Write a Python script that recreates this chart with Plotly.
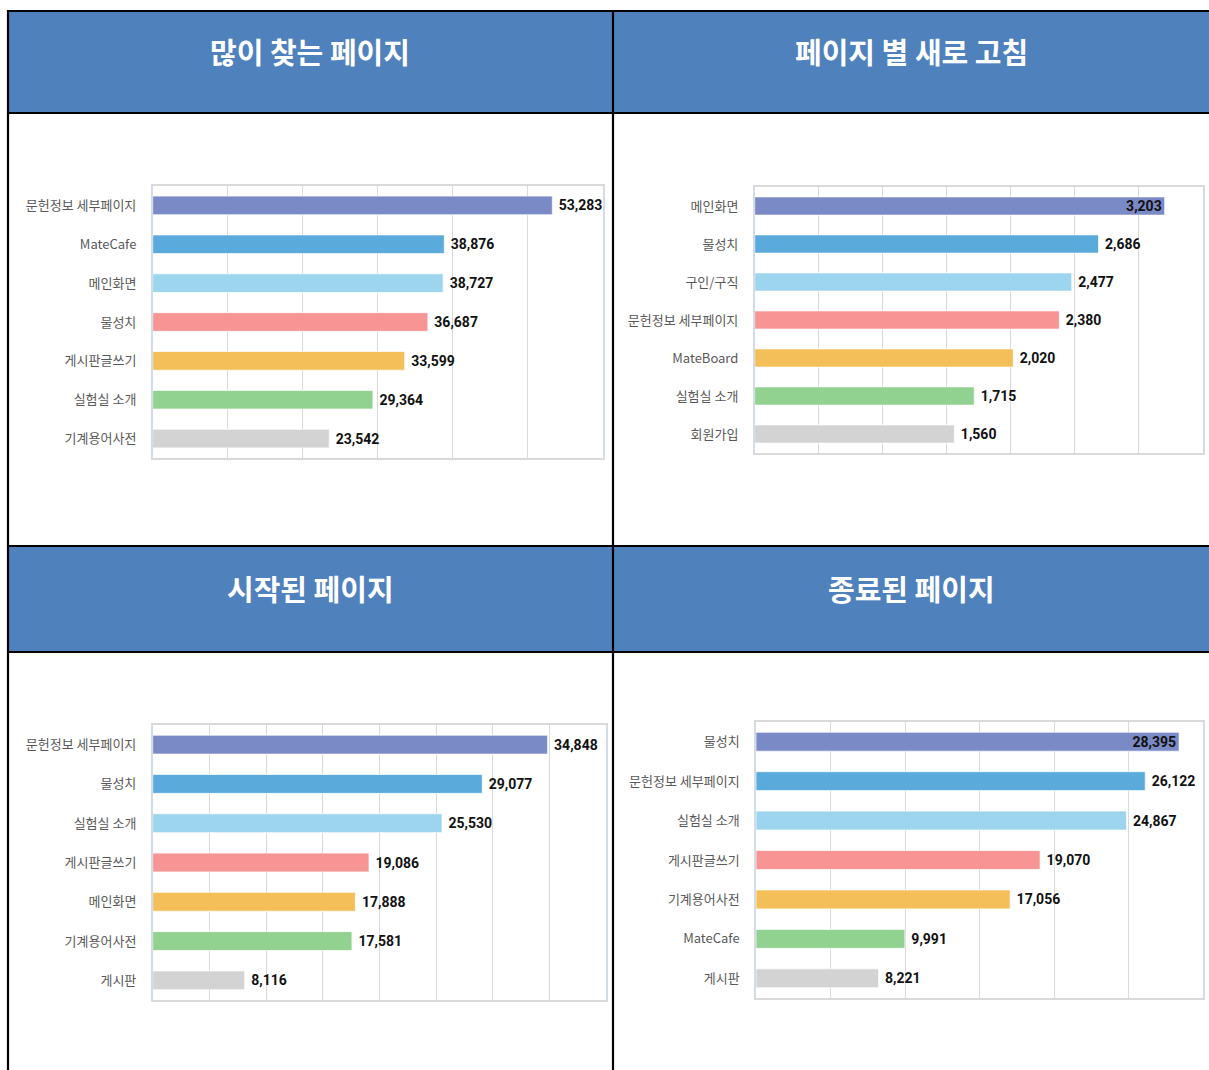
import plotly.graph_objects as go

# ---------------- data ----------------
titles = ["많이 찾는 페이지", "페이지 별 새로 고침", "시작된 페이지", "종료된 페이지"]

p1_labels = ["문헌정보 세부페이지", "MateCafe", "메인화면", "물성치", "게시판글쓰기", "실험실 소개", "기계용어사전"]
p1_values = [53283, 38876, 38727, 36687, 33599, 29364, 23542]

p2_labels = ["메인화면", "물성치", "구인/구직", "문헌정보 세부페이지", "MateBoard", "실험실 소개", "회원가입"]
p2_values = [3203, 2686, 2477, 2380, 2020, 1715, 1560]

p3_labels = ["문헌정보 세부페이지", "물성치", "실험실 소개", "게시판글쓰기", "메인화면", "기계용어사전", "게시판"]
p3_values = [34848, 29077, 25530, 19086, 17888, 17581, 8116]

p4_labels = ["물성치", "문헌정보 세부페이지", "실험실 소개", "게시판글쓰기", "기계용어사전", "MateCafe", "게시판"]
p4_values = [28395, 26122, 24867, 19070, 17056, 9991, 8221]

axis_max = [60000, 3500, 40000, 30000]
axis_step = [10000, 500, 5000, 5000]

# ---------------- style ----------------
bar_colors = ["#7A8AC6", "#5AABDC", "#9DD5EF", "#F79595", "#F4BF58", "#92D291", "#D3D3D3"]
W, H = 1209, 1070
HEADER_BLUE = "#4F81BD"
LABEL_FONT = "Noto Sans CJK KR, Noto Sans, sans-serif"
VALUE_FONT = "Roboto, Liberation Sans, sans-serif"


def px_x(p):
    return p / W


def px_y(p):
    return 1 - p / H


# plot-area boxes in pixels: (x0, x1, y_top, y_bottom)
boxes = [
    (152.7, 602.7, 186, 458),
    (754.7, 1202.7, 187, 453),
    (152.7, 606.0, 725, 1000),
    (756.0, 1203.0, 722, 998),
]

panels = [(p1_labels, p1_values), (p2_labels, p2_values), (p3_labels, p3_values), (p4_labels, p4_values)]

fig = go.Figure()

for i, ((labels, values), (x0, x1, yt, yb)) in enumerate(zip(panels, boxes)):
    n = i + 1
    xa = "x" if n == 1 else f"x{n}"
    ya = "y" if n == 1 else f"y{n}"
    inside = [v / axis_max[i] > 0.9 for v in values]
    positions = ["inside" if f else "outside" for f in inside]
    templates = ["%{x:,}" if f else " %{x:,}" for f in inside]
    vfont = dict(family=VALUE_FONT, size=14, color="#111111", weight="bold")
    fig.add_trace(go.Bar(
        x=values, y=labels, orientation="h",
        xaxis=xa, yaxis=ya,
        marker=dict(color=bar_colors, line=dict(color="rgba(255,255,255,0.7)", width=1)),
        texttemplate=templates,
        textposition=positions,
        insidetextanchor="end",
        textfont=vfont, insidetextfont=vfont, outsidetextfont=vfont,
        cliponaxis=False,
        hoverinfo="skip",
        showlegend=False,
    ))
    xkey = "xaxis" if n == 1 else f"xaxis{n}"
    ykey = "yaxis" if n == 1 else f"yaxis{n}"
    fig.layout[xkey] = dict(
        domain=[px_x(x0), px_x(x1)], anchor=ya,
        range=[0, axis_max[i]], dtick=axis_step[i], tick0=0,
        showgrid=True, gridcolor="#D9D9D9", gridwidth=1,
        showline=True, linecolor="#D9D9D9", linewidth=1.5, mirror=True,
        zeroline=False, showticklabels=False, ticks="", fixedrange=True,
    )
    fig.layout[ykey] = dict(
        domain=[px_y(yb), px_y(yt)], anchor=xa,
        type="category", autorange="reversed",
        showline=True, linecolor="#D3DBE6", linewidth=1.5, mirror=True,
        showgrid=False, zeroline=False, ticks="",
        ticklabelstandoff=12,
        tickfont=dict(family=LABEL_FONT, size=13, color="#595959"),
        fixedrange=True,
    )

shapes = []
# header bands
for (hx0, hx1, hy0, hy1) in [(8, 613, 11, 113), (613, W + 5, 11, 113), (8, 613, 546, 652), (613, W + 5, 546, 652)]:
    shapes.append(dict(type="rect", xref="paper", yref="paper",
                       x0=px_x(hx0), x1=px_x(hx1), y0=px_y(hy1), y1=px_y(hy0),
                       fillcolor=HEADER_BLUE, line=dict(width=0), layer="below"))
# black table lines
for yy in [11, 113, 546, 652]:
    shapes.append(dict(type="line", xref="paper", yref="paper",
                       x0=px_x(7), x1=px_x(W + 5), y0=px_y(yy), y1=px_y(yy),
                       line=dict(color="#000000", width=2.2)))
for xx in [8, 613]:
    shapes.append(dict(type="line", xref="paper", yref="paper",
                       x0=px_x(xx), x1=px_x(xx), y0=px_y(10), y1=px_y(H + 5),
                       line=dict(color="#000000", width=2.2)))

annotations = []
for t, (cx, cy) in zip(titles, [(310, 51), (911.5, 51), (310, 588), (911.5, 588)]):
    annotations.append(dict(text=t, xref="paper", yref="paper", x=px_x(cx), y=px_y(cy),
                            xanchor="center", yanchor="middle", showarrow=False,
                            font=dict(family=LABEL_FONT, size=29, color="#FFFFFF", weight="bold")))

fig.update_layout(
    width=W, height=H,
    margin=dict(l=0, r=0, t=0, b=0),
    paper_bgcolor="#FFFFFF", plot_bgcolor="#FFFFFF",
    bargap=0.52,
    shapes=shapes,
    annotations=annotations,
    uniformtext=dict(minsize=14, mode="show"),
)

fig.write_html("out.html", config={"displayModeBar": False},
               post_script="document.body.style.margin='0';document.body.style.overflow='hidden';")
